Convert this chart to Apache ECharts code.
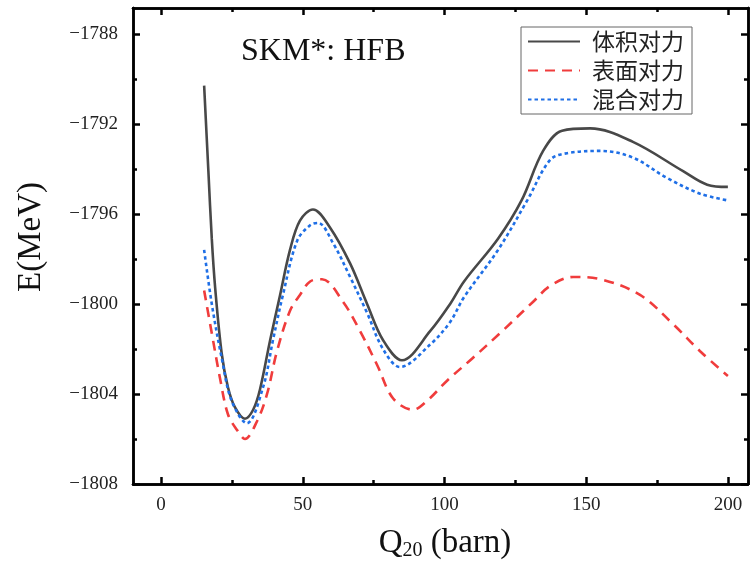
<!DOCTYPE html>
<html>
<head>
<meta charset="utf-8">
<script src="https://cdn.jsdelivr.net/npm/echarts@6/dist/echarts.min.js"></script>
<style>
  html, body { margin: 0; padding: 0; background: #fff; }
  #chart { width: 750px; height: 561px; }
</style>
</head>
<body>
<div id="chart"></div>
<script>
// 体积对力 (solid dark line)
var volumeQ = [15.2, 16.7, 17.9, 19.1, 21.4, 23.6, 26.1, 29.6, 32.5, 34.9, 38.5, 42, 45.5, 49, 53.6, 59.6, 66.7, 72.7, 78.3, 85, 95, 102, 106.9, 118.9, 127.2, 134.8, 141.5, 151.4, 166.5, 184.2, 192.7, 200];
var volumeE = [-1790.3, -1794.1, -1797.1, -1799.3, -1802.2, -1803.7, -1804.6, -1805.1, -1804.7, -1803.8, -1801.6, -1799.6, -1797.6, -1796.3, -1795.8, -1796.6, -1798.2, -1800.0, -1801.6, -1802.5, -1801.2, -1800.0, -1799.0, -1797.1, -1795.4, -1793.2, -1792.3, -1792.2, -1792.8, -1794.1, -1794.7, -1794.8];

// 表面对力 (red dashed)
var surfaceQ = [15.2, 17.9, 20.8, 23.6, 26.8, 29.6, 33.9, 37.4, 40.9, 45.5, 49, 52.6, 56.8, 64.2, 70.2, 76.2, 81.9, 88.9, 93.9, 101, 110, 119.6, 131.3, 137.3, 145.4, 155, 169, 180.7, 190.2, 200];
var surfaceE = [-1799.4, -1801.3, -1803.3, -1804.9, -1805.6, -1806.0, -1805.2, -1804.0, -1802.1, -1800.3, -1799.6, -1799.0, -1798.9, -1799.9, -1801.2, -1802.7, -1804.2, -1804.7, -1804.3, -1803.4, -1802.4, -1801.3, -1799.9, -1799.2, -1798.8, -1798.9, -1799.6, -1800.9, -1802.1, -1803.2];

// 混合对力 (blue dotted)
var mixedQ = [15.2, 17.9, 21.4, 24.9, 30.3, 36, 39.5, 43, 48, 52.6, 55.4, 60.7, 66.7, 72.7, 78.3, 84.3, 95, 102, 106.9, 118.9, 129.2, 137.3, 143.3, 155, 166.5, 178.5, 190.2, 200];
var mixedE = [-1797.6, -1800.0, -1802.4, -1804.3, -1805.3, -1803.7, -1801.6, -1799.6, -1797.2, -1796.5, -1796.4, -1797.3, -1798.8, -1800.4, -1802.0, -1802.8, -1801.8, -1800.8, -1799.7, -1797.6, -1795.4, -1793.6, -1793.3, -1793.2, -1793.5, -1794.4, -1795.1, -1795.4];

var seriesNames = ['体积对力', '表面对力', '混合对力'];

var xMajorTicks = [0, 50, 100, 150, 200];
var xMinorTicks = [25, 75, 125, 175];
var yMajorTicks = [-1808, -1804, -1800, -1796, -1792, -1788];
var yMinorTicks = [-1806, -1802, -1798, -1794, -1790];

var X_MIN = -9.9, X_MAX = 207.1;
var Y_MIN = -1808, Y_MAX = -1786.85;

function zip(xs, ys) {
    var out = [];
    for (var i = 0; i < xs.length; i++) {
        out.push([xs[i], ys[i]]);
    }
    return out;
}

function makeX(position, ticks, tickLen, showLabel) {
    return {
        type: 'value', position: position, min: X_MIN, max: X_MAX,
        axisLine: { show: true, onZero: false, lineStyle: { color: '#000', width: 2.5 } },
        axisTick: { show: true, inside: true, length: tickLen, customValues: ticks, lineStyle: { color: '#000', width: 2.5 } },
        axisLabel: {
            show: showLabel, customValues: ticks, margin: 12,
            fontFamily: 'Liberation Serif', fontSize: 19, color: '#222'
        },
        splitLine: { show: false }
    };
}

function makeY(position, ticks, tickLen, showLabel) {
    return {
        type: 'value', position: position, min: Y_MIN, max: Y_MAX,
        axisLine: { show: true, onZero: false, lineStyle: { color: '#000', width: 2.5 } },
        axisTick: { show: true, inside: true, length: tickLen, customValues: ticks, lineStyle: { color: '#000', width: 2.5 } },
        axisLabel: {
            show: showLabel, customValues: ticks, margin: 15,
            fontFamily: 'Liberation Serif', fontSize: 19, color: '#222',
            formatter: function(v) { return String(v).replace('-', '\u2212'); }
        },
        splitLine: { show: false }
    };
}

function drawChart() {
    var chart = echarts.init(document.getElementById('chart'));

    var xAxes = [
        makeX('bottom', xMajorTicks, 7, true),
        makeX('bottom', xMinorTicks, 4, false),
        makeX('top', xMajorTicks, 7, false),
        makeX('top', xMinorTicks, 4, false)
    ];
    var yAxes = [
        makeY('left', yMajorTicks, 7, true),
        makeY('left', yMinorTicks, 4, false),
        makeY('right', yMajorTicks, 7, false),
        makeY('right', yMinorTicks, 4, false)
    ];

    var lineBase = { type: 'line', showSymbol: false, symbol: 'none', smooth: 0.35, xAxisIndex: 0, yAxisIndex: 0 };

    var option = {
        animation: false,
        backgroundColor: '#fff',
        grid: { left: 133, right: 2, top: 8, bottom: 77 },
        xAxis: xAxes,
        yAxis: yAxes,
        legend: {
            orient: 'vertical', left: 521, top: 27,
            data: seriesNames,
            itemWidth: 52, itemHeight: 14, itemGap: 6,
            padding: [3, 8, 3, 6],
            itemStyle: { opacity: 0 },
            backgroundColor: '#fff', borderColor: '#666', borderWidth: 1,
            textStyle: { fontFamily: 'Noto Sans CJK SC', fontSize: 23, color: '#222', padding: [0, 0, 0, 7] }
        },
        graphic: [
            {
                type: 'text', left: 241, top: 36,
                style: { text: 'SKM*: HFB', font: '32px "Liberation Serif"', fill: '#111' }
            },
            {
                type: 'text', x: 31, y: 237, rotation: Math.PI / 2,
                style: { text: 'E(MeV)', font: '33px "Liberation Serif"', fill: '#111', align: 'center', verticalAlign: 'middle' }
            },
            {
                type: 'text', x: 445, y: 543,
                style: {
                    text: '{q|Q}{s|20}{q| (barn)}',
                    align: 'center', verticalAlign: 'middle',
                    rich: {
                        q: { fontFamily: 'Liberation Serif', fontSize: 33, fill: '#111' },
                        s: { fontFamily: 'Liberation Serif', fontSize: 20, fill: '#111', padding: [16, 0, 0, 0] }
                    }
                }
            }
        ],
        series: [
            Object.assign({}, lineBase, {
                name: seriesNames[0], data: zip(volumeQ, volumeE), z: 3,
                lineStyle: { color: '#484848', width: 2.6 }, itemStyle: { color: '#484848' }
            }),
            Object.assign({}, lineBase, {
                name: seriesNames[1], data: zip(surfaceQ, surfaceE),
                lineStyle: { color: '#f03c3c', width: 2.6, type: [10, 7] }, itemStyle: { color: '#f03c3c' }
            }),
            Object.assign({}, lineBase, {
                name: seriesNames[2], data: zip(mixedQ, mixedE),
                lineStyle: { color: '#1f6fe6', width: 2.6, type: [3.5, 3] }, itemStyle: { color: '#1f6fe6' }
            })
        ]
    };
    chart.setOption(option);
}

drawChart();
</script>
</body>
</html>
